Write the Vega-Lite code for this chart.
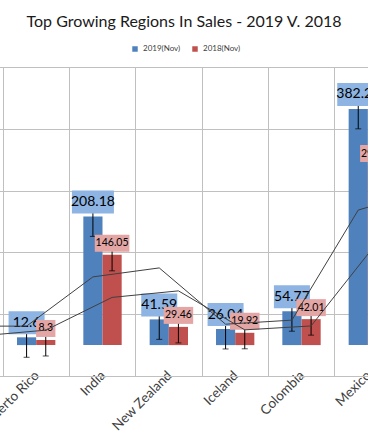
{
  "$schema": "https://vega.github.io/schema/vega-lite/v6.json",
  "width": 368,
  "height": 309,
  "autosize": {"type": "none"},
  "padding": {"left": 0, "top": 67, "right": 0, "bottom": 69},
  "background": "white",
  "title": {
    "text": "Top Growing Regions In Sales - 2019 V. 2018",
    "font": "Lato",
    "fontSize": 16,
    "fontWeight": "normal",
    "color": "#1a1a1a",
    "anchor": "middle",
    "offset": 15
  },
  "config": {
    "view": {"stroke": null},
    "font": "Lato"
  },
  "data": {
    "values": [
      {"region": "Prev", "year": "2019(Nov)", "ma": 30.7},
      {"region": "Prev", "year": "2018(Nov)", "ma": 14.7},
      {"region": "Puerto Rico", "year": "2019(Nov)", "sales": 12.6, "lo": -19.7, "hi": 44.9, "ma": 30.7},
      {"region": "Puerto Rico", "year": "2018(Nov)", "sales": 8.3, "lo": -17.6, "hi": 34.2, "ma": 24.2},
      {"region": "India", "year": "2019(Nov)", "sales": 208.18, "lo": 175.88, "hi": 240.48, "ma": 110.39},
      {"region": "India", "year": "2018(Nov)", "sales": 146.05, "lo": 120.15, "hi": 171.95, "ma": 77.18},
      {"region": "New Zealand", "year": "2019(Nov)", "sales": 41.59, "lo": 9.29, "hi": 73.89, "ma": 124.89},
      {"region": "New Zealand", "year": "2018(Nov)", "sales": 29.46, "lo": 3.56, "hi": 55.36, "ma": 87.76},
      {"region": "Iceland", "year": "2019(Nov)", "sales": 26.04, "lo": -6.26, "hi": 58.34, "ma": 33.82},
      {"region": "Iceland", "year": "2018(Nov)", "sales": 19.92, "lo": -5.98, "hi": 45.82, "ma": 24.69},
      {"region": "Colombia", "year": "2019(Nov)", "sales": 54.77, "lo": 22.47, "hi": 87.07, "ma": 40.41},
      {"region": "Colombia", "year": "2018(Nov)", "sales": 42.01, "lo": 16.11, "hi": 67.91, "ma": 30.97},
      {"region": "Mexico", "year": "2019(Nov)", "sales": 382.24, "lo": 349.94, "hi": 414.54, "ma": 218.51},
      {"region": "Mexico", "year": "2018(Nov)", "sales": 291.35, "lo": 265.45, "hi": 317.25, "ma": 166.68},
      {"region": "Next", "year": "2019(Nov)", "ma": 250.0}
    ]
  },
  "encoding": {
    "x": {
      "field": "region",
      "type": "nominal",
      "sort": null,
      "scale": {
        "domain": ["Prev", "Puerto Rico", "India", "New Zealand", "Iceland", "Colombia", "Mexico", "Next"],
        "range": [-63.33, 467.33],
        "paddingInner": 0,
        "paddingOuter": 0
      },
      "axis": {
        "title": null,
        "labelAngle": -45,
        "bandPosition": 0,
        "ticks": false,
        "grid": true,
        "gridColor": "#c0c0c0",
        "gridOpacity": 1,
        "domainColor": "#c0c0c0",
        "labelFont": "Lato",
        "labelFontSize": 13.5,
        "labelColor": "#404040",
        "labelPadding": -8,
        "labelOffset": -4,
        "labelOverlap": false
      }
    },
    "xOffset": {
      "field": "year",
      "type": "nominal",
      "scale": {"domain": ["2019(Nov)", "2018(Nov)"], "paddingOuter": 0.73, "paddingInner": 0}
    }
  },
  "layer": [
    {
      "mark": {"type": "bar"},
      "encoding": {
        "y": {
          "field": "sales",
          "type": "quantitative",
          "scale": {"domain": [-50, 450], "nice": false, "zero": false},
          "axis": {
            "title": null,
            "values": [-50, 0, 50, 100, 150, 200, 250, 300, 350, 400, 450],
            "grid": true,
            "gridColor": "#c0c0c0",
            "gridOpacity": 1,
            "domain": false,
            "ticks": false,
            "labelColor": "#404040",
            "labelFontSize": 13
          }
        },
        "color": {
          "field": "year",
          "type": "nominal",
          "scale": {"domain": ["2019(Nov)", "2018(Nov)"], "range": ["#4f81bd", "#c0504d"]},
          "legend": {
            "title": null,
            "orient": "none",
            "direction": "horizontal",
            "legendX": 131,
            "legendY": -22,
            "symbolType": "square",
            "symbolSize": 30,
            "symbolStrokeWidth": 0,
            "labelFont": "Lato",
            "labelFontSize": 8,
            "labelColor": "#404040",
            "labelOffset": 4,
            "columnPadding": 10
          }
        }
      }
    },
    {
      "mark": {"type": "rule", "color": "#000000", "strokeWidth": 1},
      "encoding": {
        "y": {"field": "lo", "type": "quantitative"},
        "y2": {"field": "hi"}
      }
    },
    {
      "mark": {"type": "tick", "color": "#000000", "thickness": 1, "size": 6},
      "encoding": {"y": {"field": "lo", "type": "quantitative"}}
    },
    {
      "mark": {"type": "tick", "color": "#000000", "thickness": 1, "size": 6},
      "encoding": {"y": {"field": "hi", "type": "quantitative"}}
    },
    {
      "transform": [{"filter": "datum.year === '2019(Nov)' && isValid(datum.sales)"}],
      "mark": {
        "type": "bar",
        "color": "#8db4e2",
        "yOffset": -3,
        "y2Offset": -26,
        "width": {"expr": "max(36, 7 * length(toString(datum.sales)))"}
      },
      "encoding": {
        "y": {"field": "sales", "type": "quantitative"},
        "y2": {"field": "sales"}
      }
    },
    {
      "transform": [{"filter": "datum.year === '2019(Nov)' && isValid(datum.sales)"}],
      "mark": {"type": "text", "font": "Lato", "fontSize": 14, "yOffset": -14.5, "baseline": "middle", "color": "#000000"},
      "encoding": {
        "y": {"field": "sales", "type": "quantitative"},
        "text": {"field": "sales", "type": "nominal"}
      }
    },
    {
      "transform": [{"filter": "datum.year === '2018(Nov)' && isValid(datum.sales)"}],
      "mark": {
        "type": "bar",
        "color": "#e3a6a5",
        "yOffset": -3,
        "y2Offset": -20,
        "width": {"expr": "5.1 * length(toString(datum.sales)) + 4"}
      },
      "encoding": {
        "y": {"field": "sales", "type": "quantitative"},
        "y2": {"field": "sales"}
      }
    },
    {
      "transform": [{"filter": "datum.year === '2018(Nov)' && isValid(datum.sales)"}],
      "mark": {"type": "text", "font": "Lato", "fontSize": 10.5, "yOffset": -11.5, "baseline": "middle", "color": "#000000"},
      "encoding": {
        "y": {"field": "sales", "type": "quantitative"},
        "text": {"field": "sales", "type": "nominal"}
      }
    },
    {
      "mark": {"type": "line", "color": "#404040", "strokeWidth": 1},
      "encoding": {
        "y": {"field": "ma", "type": "quantitative"},
        "detail": {"field": "year", "type": "nominal"},
        "order": {"value": null}
      }
    }
  ]
}
